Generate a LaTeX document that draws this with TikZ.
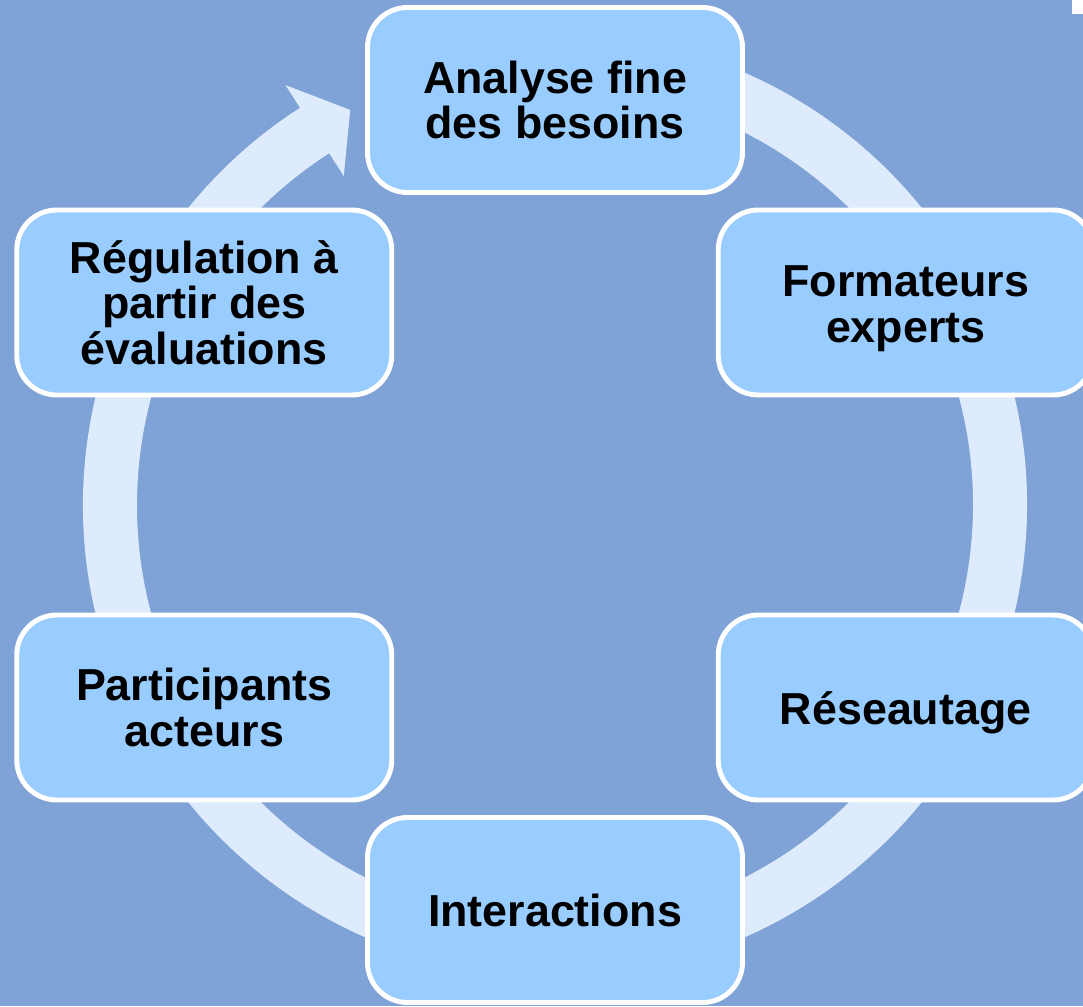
\documentclass[tikz,border=0pt]{standalone}
\usepackage{fontspec}
\setmainfont{Liberation Sans}
\usepackage{xcolor}
\usepackage{tikz}
\definecolor{fond}{RGB}{127,163,214}
\definecolor{anneau}{RGB}{221,235,253}
\definecolor{boite}{RGB}{153,204,255}
\newcommand{\bas}{\rule{0pt}{24.5pt}}
\tikzset{etape/.style={draw=white, line width=2.8pt, fill=boite, rounded corners=0.8cm,
    minimum width=7.5cm, minimum height=3.7cm, align=center,
    font=\fontsize{25.5}{26}\selectfont\bfseries}}

\begin{document}
\begin{tikzpicture}
    \useasboundingbox (-11.1,-10.02) rectangle (10.56,10.1);
    \clip (-11.1,-10.02) rectangle (10.56,10.1);
    \fill[fond] (-11.1,-10.02) rectangle (10.56,10.1);
    \fill[white] (10.34,9.82) rectangle (10.56,10.1);

    \fill[anneau] (80:9.44) arc[start angle=80, end angle=-237.3, radius=9.44]
        -- (-237.3:9.98) -- (-242.6:8.9) -- (-237.3:7.82) -- (-237.3:8.36)
        arc[start angle=-237.3, end angle=80, radius=8.36] -- cycle;

    \node[etape](ana) at (90:8.1) {Analyse fine\\des besoins};
    \node[etape](form) at (30:8.1) {\bas Formateurs\\experts};
    \node[etape](res) at (-30:8.1) {\bas Réseautage};
    \node[etape](inter) at (-90:8.1) {Interactions};
    \node[etape](part) at (210:8.1) {Participants\\acteurs};
    \node[etape](reg) at (150:8.1) {Régulation à\\partir des\\évaluations};
  \end{tikzpicture}
\end{document}
